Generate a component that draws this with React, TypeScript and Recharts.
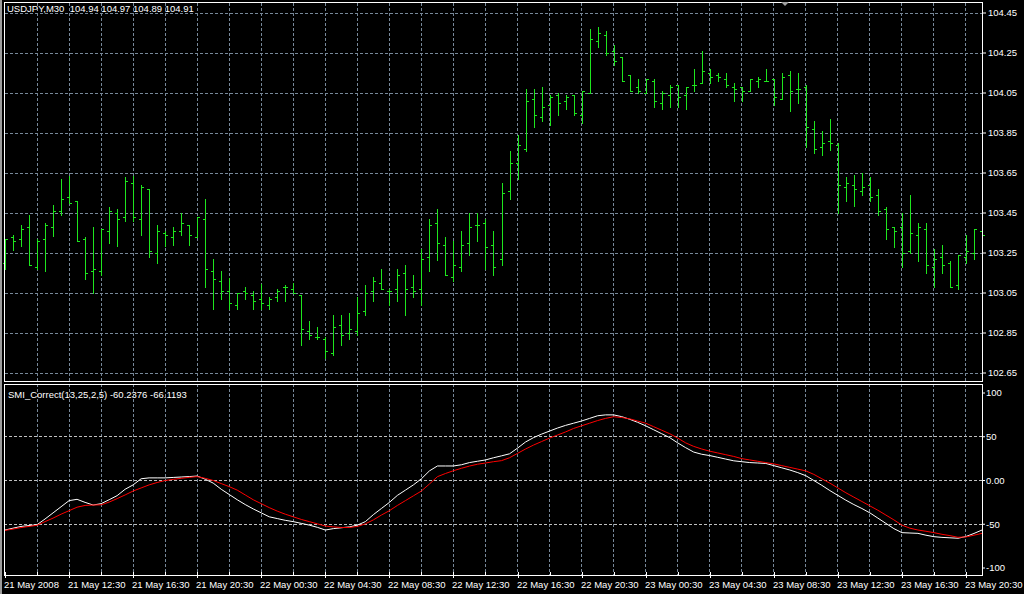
import React from 'react';
import { ComposedChart, Bar, Line, XAxis, YAxis, CartesianGrid, ReferenceLine } from 'recharts';

const FONT = "'Liberation Sans', Arial, sans-serif";
const BAR_COLOR = '#1ee61e';
const GRID_COLOR = '#778899';

// ---- price bars (USDJPY M30, 21 May 08:30 .. 23 May 21:30) ----
const opens = [
  103.20, 103.33, 103.32, 103.38, 103.18, 103.32, 103.38, 103.46, 103.53, 103.51,
  103.32, 103.16, 103.16, 103.36, 103.45, 103.43, 103.60, 103.42, 103.57, 103.25,
  103.35, 103.33, 103.36, 103.39, 103.33, 103.42, 103.16, 103.11, 103.06, 102.99,
  103.06, 103.04, 103.02, 102.99, 103.03, 103.08, 103.07, 103.04, 102.86, 102.83,
  102.82, 102.75, 102.89, 102.85, 102.86, 102.96, 103.06, 103.10, 103.06, 103.07,
  103.15, 103.08, 103.07, 103.23, 103.40, 103.29, 103.13, 103.18, 103.30, 103.39,
  103.40, 103.29, 103.22, 103.56, 103.70, 103.77, 104.02, 103.93, 103.99, 104.04,
  104.01, 104.04, 103.94, 104.05, 104.31, 104.34, 104.26, 104.23, 104.14, 104.08,
  104.05, 104.11, 104.00, 104.04, 104.09, 104.04, 104.09, 104.10, 104.15, 104.14,
  104.12, 104.08, 104.08, 104.06, 104.11, 104.11, 104.12, 104.02, 104.14, 104.07,
  104.08, 103.87, 103.78, 103.81, 103.79, 103.58, 103.59, 103.56, 103.59, 103.54,
  103.47, 103.38, 103.38, 103.26, 103.34, 103.37, 103.18, 103.23, 103.20, 103.09,
  103.23, 103.25, 103.36,
];
const highs = [
  103.32, 103.34, 103.39, 103.44, 103.32, 103.40, 103.49, 103.62, 103.635, 103.51,
  103.33, 103.38, 103.37, 103.48, 103.47, 103.63, 103.635, 103.59, 103.57, 103.39,
  103.36, 103.38, 103.45, 103.39, 103.43, 103.52, 103.22, 103.16, 103.125, 103.05,
  103.08, 103.06, 103.095, 103.03, 103.07, 103.09, 103.10, 103.04, 102.91, 102.88,
  102.83, 102.94, 102.94, 102.95, 103.03, 103.09, 103.13, 103.17, 103.07, 103.17,
  103.19, 103.14, 103.27, 103.42, 103.47, 103.33, 103.31, 103.36, 103.45, 103.45,
  103.42, 103.36, 103.60, 103.76, 103.84, 104.07, 104.07, 104.08, 104.04, 104.05,
  104.04, 104.04, 104.06, 104.37, 104.38, 104.36, 104.29, 104.23, 104.14, 104.12,
  104.12, 104.12, 104.06, 104.09, 104.09, 104.08, 104.17, 104.26, 104.17, 104.15,
  104.15, 104.10, 104.08, 104.12, 104.13, 104.17, 104.12, 104.15, 104.16, 104.15,
  104.09, 103.91, 103.86, 103.92, 103.80, 103.63, 103.64, 103.65, 103.63, 103.57,
  103.48, 103.38, 103.45, 103.54, 103.40, 103.40, 103.27, 103.29, 103.21, 103.24,
  103.34, 103.37, 103.38,
];
const lows = [
  103.17, 103.265, 103.285, 103.19, 103.17, 103.16, 103.335, 103.44, 103.50, 103.31,
  103.12, 103.05, 103.14, 103.30, 103.285, 103.41, 103.41, 103.34, 103.23, 103.20,
  103.285, 103.29, 103.34, 103.29, 103.33, 103.08, 102.97, 103.02, 102.97, 102.97,
  103.02, 102.97, 102.97, 102.97, 103.01, 103.01, 103.05, 102.79, 102.82, 102.82,
  102.725, 102.74, 102.79, 102.82, 102.84, 102.94, 103.01, 103.07, 102.99, 103.01,
  102.94, 103.03, 102.99, 103.16, 103.215, 103.14, 103.11, 103.16, 103.24, 103.31,
  103.17, 103.14, 103.19, 103.52, 103.62, 103.76, 103.88, 103.91, 103.89, 103.94,
  103.97, 103.94, 103.90, 104.05, 104.28, 104.24, 104.19, 104.11, 104.06, 104.05,
  104.05, 103.98, 103.97, 103.98, 103.98, 103.97, 104.06, 104.10, 104.10, 104.11,
  104.08, 104.01, 104.01, 104.06, 104.08, 104.11, 103.99, 104.02, 103.96, 104.00,
  103.78, 103.75, 103.74, 103.765, 103.45, 103.51, 103.485, 103.54, 103.51, 103.44,
  103.32, 103.28, 103.18, 103.25, 103.21, 103.15, 103.08, 103.15, 103.08, 103.07,
  103.20, 103.22, 103.30,
];
const closes = [
  103.32, 103.31, 103.37, 103.19, 103.31, 103.39, 103.46, 103.52, 103.50, 103.31,
  103.15, 103.17, 103.37, 103.46, 103.42, 103.61, 103.43, 103.58, 103.26, 103.36,
  103.34, 103.36, 103.40, 103.34, 103.43, 103.17, 103.12, 103.06, 103.00, 103.05,
  103.05, 103.01, 103.00, 103.02, 103.06, 103.08, 103.05, 102.87, 102.84, 102.83,
  102.76, 102.88, 102.84, 102.87, 102.95, 103.05, 103.11, 103.07, 103.06, 103.14,
  103.07, 103.06, 103.22, 103.39, 103.30, 103.14, 103.19, 103.29, 103.38, 103.39,
  103.28, 103.18, 103.55, 103.70, 103.79, 104.01, 103.94, 103.98, 104.03, 104.00,
  104.03, 103.95, 104.06, 104.32, 104.35, 104.25, 104.21, 104.11, 104.06, 104.06,
  104.12, 104.01, 104.05, 104.08, 104.03, 104.08, 104.09, 104.16, 104.13, 104.13,
  104.09, 104.07, 104.06, 104.12, 104.12, 104.11, 104.03, 104.13, 104.06, 104.07,
  103.88, 103.77, 103.80, 103.80, 103.59, 103.60, 103.57, 103.58, 103.53, 103.46,
  103.37, 103.36, 103.25, 103.35, 103.38, 103.19, 103.22, 103.19, 103.08, 103.24,
  103.26, 103.37, 103.34,
];

// ---- SMI_Correct(13,25,2,5): main (white) and signal (red) ----
const smiValues = [
  -56.6, -54.5, -52.5, -51.5, -50.5, -44, -37, -30, -23, -21.5,
  -25, -28, -26.5, -22, -17.3, -10, -5, 2, 3, 3,
  3, 3.5, 4, 4.5, 5.1, 1.5, -3, -10, -16, -22,
  -27.5, -32.5, -37, -41.5, -43.5, -45.5, -47, -49, -51, -53.5,
  -56.6, -55, -54, -53, -51, -47, -39, -32, -25, -17,
  -11, -5, 2, 11, 16.6, 16.6, 16.6, 18, 20.5, 22,
  23.5, 26, 28.2, 30.5, 37, 44, 49, 53, 56.5, 60,
  63, 65.5, 68, 71, 74, 75, 75, 73, 70, 66.5,
  62.5, 58, 53.5, 49, 43, 37.5, 32.5, 30, 28.5, 26.5,
  24.5, 22.5, 21.5, 20.5, 20, 19.5, 17, 14.5, 12, 9,
  5.5, 0, -5.5, -11.5, -17, -22.5, -27.5, -32, -37, -43,
  -49, -55, -59.6, -60, -60.4, -62.5, -64.2, -65, -65.5, -66,
  -64, -60.5, -56.6,
];
const signalValues = [
  -57, -55.5, -53.8, -52.5, -51.2, -47, -43, -38.5, -34.5, -30.5,
  -28.5, -28, -27.8, -24.7, -20.7, -16.5, -12, -8.5, -5, -2.3,
  0, 1.3, 2.5, 3.6, 4.4, 2.5, 0, -3.5, -7, -11,
  -16.5, -22, -26.5, -31, -35, -38.5, -41.5, -44.5, -47, -49.5,
  -52, -53, -53.7, -53.7, -52.5, -49.5, -45, -39.5, -34.5, -28.5,
  -23, -17.5, -12, -4, 4.4, 8, 11.2, 14, 16.5, 18.6,
  20, 21.5, 22.7, 26, 31, 36, 40.5, 44.5, 48.5, 52,
  55.5, 59.5, 62.5, 65.5, 68.5, 71, 72.9, 72, 70.5, 68,
  65.5, 61.5, 57.5, 53.5, 48.5, 43, 39, 36, 33.5, 31.5,
  29.5, 27.5, 25, 23.5, 22, 20.5, 19, 17, 15, 13,
  11, 7, 2, -3, -8.5, -14, -19, -24, -29, -34,
  -39.5, -45, -51, -54.5, -56.6, -58, -59.6, -61.5, -63, -64.9,
  -64.5, -62.5, -60.4,
];

// ---- axes ----
const timeLabels = [
  '21 May 2008', '21 May 12:30', '21 May 16:30', '21 May 20:30',
  '22 May 00:30', '22 May 04:30', '22 May 08:30', '22 May 12:30',
  '22 May 16:30', '22 May 20:30', '23 May 00:30', '23 May 04:30',
  '23 May 08:30', '23 May 12:30', '23 May 16:30', '23 May 20:30',
];
const gridIdx = [4, 8, 12, 16, 20, 24, 28, 32, 36, 40, 44, 48, 52, 56, 60, 64, 68, 72, 76, 80, 84, 88, 92, 96, 100, 104, 108, 112, 116, 120];
const timeTickIdx = [0, ...gridIdx];
const priceTicks = [102.65, 102.85, 103.05, 103.25, 103.45, 103.65, 103.85, 104.05, 104.25, 104.45];
const smiTicks = [100, 50, 0, -50, -100];
const smiLevels = [50, 0, -50];

const priceData = opens.map((o, i) => ({
  i,
  open: o,
  high: highs[i],
  low: lows[i],
  close: closes[i],
  range: [lows[i], highs[i]],
}));
const smiData = smiValues.map((v, i) => ({ i, smi: v, sig: signalValues[i] }));

const OhlcShape = (props: any) => {
  const { x, y, width, height, payload } = props;
  if (x == null || y == null || !payload) return null;
  const cx = Math.round(x + width / 2);
  const yTop = Math.min(y, y + height);
  const h = Math.abs(height);
  const span = payload.high - payload.low;
  const yOf = (v: number) => (span === 0 ? yTop : yTop + ((payload.high - v) / span) * h);
  const top = Math.round(yTop);
  const bottom = Math.round(yTop + h);
  return (
    <g fill={BAR_COLOR} shapeRendering="crispEdges">
      <rect x={cx} y={top} width={1} height={Math.max(1, bottom - top + 1)} />
      <rect x={cx - 2} y={Math.round(yOf(payload.open))} width={2} height={1} />
      <rect x={cx + 1} y={Math.round(yOf(payload.close))} width={2} height={1} />
    </g>
  );
};

const TimeTick = (props: any) => {
  const { x, y, payload } = props;
  const idx = payload.value as number;
  const labeled = idx % 8 === 0;
  const cx = Math.round(x) + 0.5;
  return (
    <g>
      <line x1={cx} x2={cx} y1={y - 3} y2={labeled ? y + 3 : y} stroke="#fff" shapeRendering="crispEdges" />
      {labeled && (
        <text x={Math.round(x) - 1} y={y + 13} fill="#fff" fontSize={9.5} fontFamily={FONT} textAnchor="start">
          {timeLabels[idx / 8]}
        </text>
      )}
    </g>
  );
};

const axisTick = { fill: '#fff', fontSize: 9.5, fontFamily: FONT };

export default function App() {
  return (
    <div style={{ position: 'fixed', left: 0, top: 0, width: 1024, height: 594, background: '#000', overflow: 'hidden', fontFamily: FONT }}>
      <div style={{ position: 'absolute', left: 0, top: 0 }}>
        <ComposedChart width={1024} height={384} data={priceData} margin={{ top: 3, right: 0, bottom: 3, left: 5 }}>
          <CartesianGrid stroke={GRID_COLOR} strokeDasharray="3 2" verticalValues={gridIdx} horizontalValues={priceTicks} shapeRendering="crispEdges" />
          <XAxis dataKey="i" type="number" domain={[0, 122]} ticks={gridIdx} hide />
          <YAxis
            orientation="right"
            width={42}
            domain={[102.61, 104.5]}
            ticks={priceTicks}
            interval={0}
            tick={axisTick}
            tickLine={{ stroke: '#fff' }}
            tickSize={4}
            tickMargin={2}
            axisLine={false}
            tickFormatter={(v: number) => v.toFixed(2)}
          />
          <Bar dataKey="range" barSize={8} shape={<OhlcShape />} isAnimationActive={false} />
        </ComposedChart>
      </div>

      <div style={{ position: 'absolute', left: 0, top: 384 }}>
        <ComposedChart width={1024} height={210} data={smiData} margin={{ top: 0, right: 0, bottom: 0, left: 5 }}>
          <CartesianGrid stroke={GRID_COLOR} strokeDasharray="3 2" horizontal={false} verticalValues={gridIdx} shapeRendering="crispEdges" />
          {smiLevels.map((v) => (
            <ReferenceLine key={v} y={v} stroke="#c0c0c0" strokeDasharray="3 2" shapeRendering="crispEdges" />
          ))}
          <XAxis
            dataKey="i"
            type="number"
            domain={[0, 122]}
            ticks={timeTickIdx}
            interval={0}
            height={19}
            tick={<TimeTick />}
            tickSize={0}
            tickMargin={0}
            tickLine={false}
            axisLine={false}
          />
          <YAxis
            orientation="right"
            width={42}
            domain={[-108, 110.3]}
            ticks={smiTicks}
            interval={0}
            tick={axisTick}
            tickLine={{ stroke: '#fff' }}
            tickSize={3}
            tickMargin={1}
            axisLine={false}
            tickFormatter={(v: number) => (v === 0 ? '0.00' : String(v))}
          />
          <Line dataKey="smi" type="linear" stroke="#ffffff" strokeWidth={1} dot={false} isAnimationActive={false} />
          <Line dataKey="sig" type="linear" stroke="#ff0000" strokeWidth={1} dot={false} isAnimationActive={false} />
        </ComposedChart>
      </div>

      {/* window edge and panel frames */}
      <div style={{ position: 'absolute', left: 0, top: 0, width: 2, height: 594, background: '#9c9c9c' }} />
      <div style={{ position: 'absolute', left: 4, top: 2, width: 979, height: 380, boxSizing: 'border-box', border: '1px solid #fff', pointerEvents: 'none' }} />
      <div style={{ position: 'absolute', left: 4, top: 384, width: 979, height: 192, boxSizing: 'border-box', border: '1px solid #fff', pointerEvents: 'none' }} />
      <div style={{ position: 'absolute', left: 781, top: 2, width: 0, height: 0, borderLeft: '4px solid transparent', borderRight: '4px solid transparent', borderTop: '4px solid #a0a0a0' }} />

      {/* panel captions */}
      <div style={{ position: 'absolute', left: 7, top: 4, fontSize: 9.5, lineHeight: '10px', color: '#fff', whiteSpace: 'pre' }}>
        {'USDJPY,M30  104.94 104.97 104.89 104.91'}
      </div>
      <div style={{ position: 'absolute', left: 8, top: 390, fontSize: 9.5, lineHeight: '10px', color: '#fff', whiteSpace: 'pre' }}>
        {'SMI_Correct(13,25,2,5) -60.2376 -66.1193'}
      </div>
    </div>
  );
}
